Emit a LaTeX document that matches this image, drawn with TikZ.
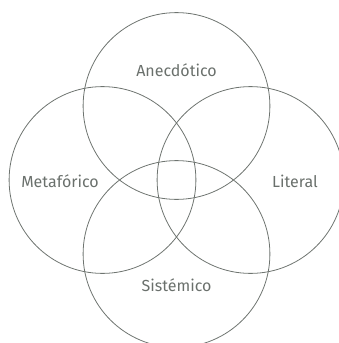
\documentclass[tikz,border=0pt]{standalone}
\usepackage{fontspec}
\setmainfont{Fira Sans}
\definecolor{ring}{HTML}{6E7470}
\definecolor{lbl}{HTML}{6A706C}
\begin{document}
\begin{tikzpicture}[x=1pt,y=-1pt,
  ring/.style={draw=ring,line width=0.8pt},
  lbl/.style={text=lbl,font=\fontsize{16}{19}\selectfont,inner sep=0pt}]
\useasboundingbox (0,0) rectangle (338,343);
\coordinate (ct) at (176.5,106);
\coordinate (cl) at (102.5,180);
\coordinate (cr) at (250.5,180);
\coordinate (cb) at (176.5,254);
\draw[ring] (ct) circle[radius=93.4];
\draw[ring] (cl) circle[radius=93.4];
\draw[ring] (cr) circle[radius=93.4];
\draw[ring] (cb) circle[radius=93.4];
\node[lbl] (a) at (176.5,70) {Anecdótico};
\node[lbl] (m) at (60,181) {Metafórico};
\node[lbl] (l) at (295,181) {Literal};
\node[lbl] (s) at (176.5,285) {Sistémico};
\end{tikzpicture}
\end{document}
